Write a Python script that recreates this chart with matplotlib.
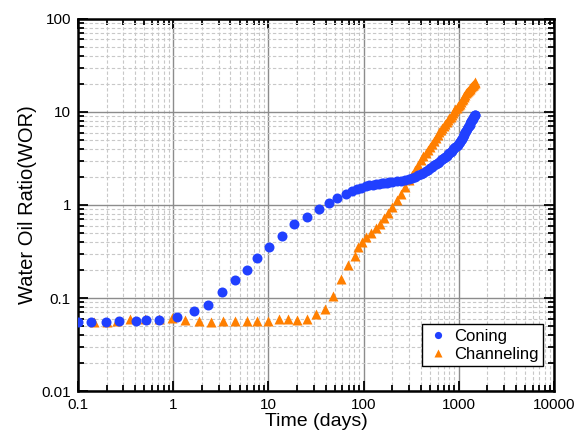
import matplotlib

matplotlib.use("Agg")
import matplotlib.pyplot as plt
from matplotlib.ticker import FixedLocator, LogLocator, NullFormatter

plt.rcParams["font.family"] = ["Liberation Sans", "DejaVu Sans"]

# Coning: water-oil ratio vs time (days)
coning_t = [0.1, 0.138, 0.196, 0.267, 0.406, 0.517, 0.71, 1.107, 1.64, 2.35, 3.27,
            4.52, 5.98, 7.69, 10.1, 13.8, 18.7, 25.2, 34, 43.3, 53,
            65, 75, 85, 95, 105, 115, 125, 135, 145, 155, 165, 175, 187,
            200, 225, 250, 275, 300, 325, 350, 375, 400, 425, 450, 475, 500,
            525, 550, 575, 600, 625, 650, 675, 700, 725, 750, 775, 800, 825,
            850, 875, 900, 925, 950, 975, 1000, 1025, 1050, 1075, 1100, 1125,
            1150, 1175, 1200, 1225, 1250, 1275, 1300, 1325, 1350, 1375, 1400,
            1425, 1450, 1475, 1500]
coning_wor = [0.0556, 0.0556, 0.0556, 0.057, 0.0565, 0.058, 0.058, 0.063, 0.072,
              0.084, 0.116, 0.155, 0.2, 0.267, 0.356, 0.465, 0.625, 0.748, 0.906,
              1.06, 1.18,
              1.31, 1.40, 1.47, 1.53, 1.58, 1.62, 1.65, 1.68, 1.70, 1.72, 1.73,
              1.74, 1.75,
              1.76, 1.79, 1.82, 1.86, 1.90, 1.96, 2.02, 2.09, 2.16, 2.23, 2.30,
              2.39, 2.48, 2.58, 2.67, 2.76, 2.85, 2.93, 3.02, 3.10, 3.20, 3.30,
              3.40, 3.50, 3.60, 3.72, 3.84, 3.96, 4.08, 4.20, 4.33, 4.46, 4.60,
              4.78, 4.96, 5.15, 5.35, 5.58, 5.82, 6.06, 6.30, 6.55, 6.80, 7.05,
              7.30, 7.60, 7.90, 8.20, 8.45, 8.70, 8.95, 9.15, 9.35]

# Channeling: water-oil ratio vs time (days)
chan_t = [0.146, 0.2, 0.256, 0.354, 0.509, 0.703, 0.97, 1.34, 1.85, 2.5, 3.32,
          4.52, 5.98, 7.62, 9.95, 12.9, 16.2, 20.1, 25.6, 31.9, 39.1, 48.1,
          57.5, 69.2, 80.7, 87.5, 97, 107, 119, 134, 150, 165, 180,
          200, 225, 250, 275, 300, 325, 350, 375, 400, 425, 450, 475, 500,
          525, 550, 575, 600, 625, 650, 675, 700, 725, 750, 775, 800, 825,
          850, 875, 900, 925, 950, 975, 1000, 1025, 1050, 1075, 1100, 1125,
          1150, 1175, 1200, 1225, 1250, 1275, 1300, 1325, 1350, 1375, 1400,
          1425, 1450, 1475, 1500]
chan_wor = [0.055, 0.055, 0.056, 0.059, 0.059, 0.059, 0.0605, 0.058, 0.057,
            0.0553, 0.057, 0.057, 0.056, 0.056, 0.056, 0.059, 0.059, 0.058,
            0.06, 0.067, 0.077, 0.105, 0.159, 0.226, 0.285, 0.351, 0.403,
            0.456, 0.50, 0.56, 0.63, 0.72, 0.82,
            0.95, 1.12, 1.32, 1.56, 1.85, 2.12, 2.40, 2.72, 3.05, 3.35, 3.62,
            3.90, 4.20, 4.50, 4.85, 5.25, 5.70, 6.10, 6.40, 6.75, 7.10, 7.45,
            7.80, 8.15, 8.50, 8.90, 9.30, 9.70, 10.2, 10.7, 11.1, 11.5, 11.9,
            12.3, 12.8, 13.3, 13.8, 14.3, 14.8, 15.3, 15.8, 16.3, 16.7, 17.1,
            17.5, 18.0, 18.5, 18.9, 19.3, 19.7, 20.1, 20.5, 20.9]

x_ticks = [0.1, 1, 10, 100, 1000, 10000]
x_labels = ["0.1", "1", "10", "100", "1000", "10000"]
y_ticks = [0.01, 0.1, 1, 10, 100]
y_labels = ["0.01", "0.1", "1", "10", "100"]

fig = plt.figure(figsize=(5.77, 4.38), dpi=100)
ax = fig.add_axes([0.135, 0.107, 0.825, 0.85])

ax.plot(chan_t, chan_wor, ls="none", marker="^", ms=7.8, color="#ff7f00",
        mec="none", label="Channeling", zorder=3)
ax.plot(coning_t, coning_wor, ls="none", marker="o", ms=7.2, color="#2040ff",
        mec="none", label="Coning", zorder=4)

ax.set_xscale("log")
ax.set_yscale("log")
ax.set_xlim(0.1, 10000)
ax.set_ylim(0.01, 100)

ax.xaxis.set_major_locator(FixedLocator(x_ticks))
ax.set_xticklabels(x_labels)
ax.yaxis.set_major_locator(FixedLocator(y_ticks))
ax.set_yticklabels(y_labels)
for axis in (ax.xaxis, ax.yaxis):
    axis.set_minor_locator(LogLocator(base=10, subs=range(2, 10), numticks=20))
    axis.set_minor_formatter(NullFormatter())

ax.grid(which="major", color="#8c8c8c", lw=1.0, ls="-")
ax.grid(which="minor", color="#c8c8c8", lw=0.8, ls=(0, (3, 2)))
ax.set_axisbelow(True)

ax.tick_params(which="both", direction="in", top=True, right=True,
               labelsize=11, width=1.3, pad=5)
ax.tick_params(which="major", length=7)
ax.tick_params(which="minor", length=4)
for s in ax.spines.values():
    s.set_linewidth(1.8)

ax.set_xlabel("Time (days)", fontsize=14, labelpad=1)
ax.set_ylabel("Water Oil Ratio(WOR)", fontsize=14.5, labelpad=3)

handles, labels = ax.get_legend_handles_labels()
leg = ax.legend(handles[::-1], labels[::-1], loc="lower right",
                bbox_to_anchor=(0.995, 0.045), fontsize=12, markerscale=0.72,
                fancybox=False, framealpha=1, edgecolor="black",
                handletextpad=0.3, handlelength=1.4, borderpad=0.25,
                labelspacing=0.2)
leg.get_frame().set_linewidth(1.0)

fig.savefig("out.png", dpi=100)
